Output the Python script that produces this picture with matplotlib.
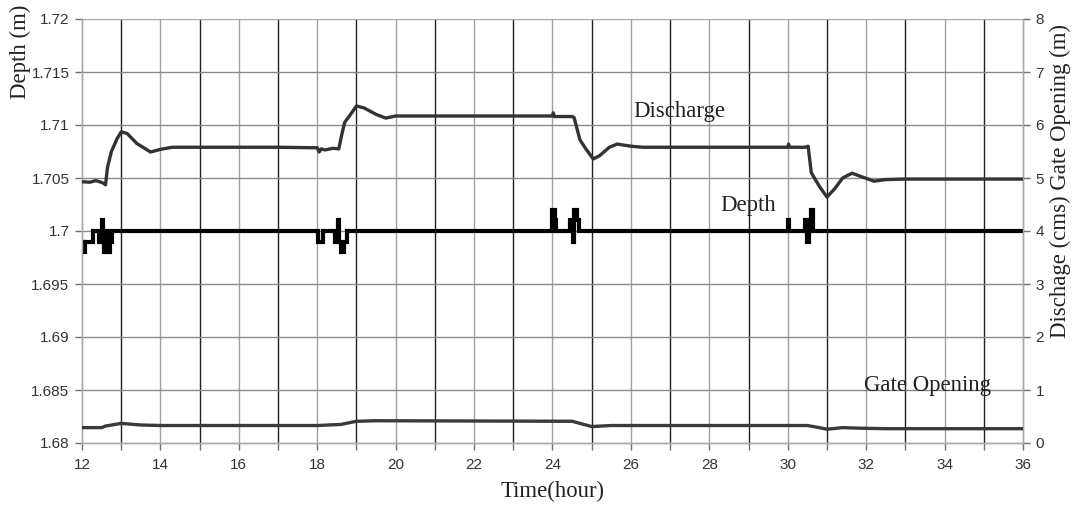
import matplotlib
matplotlib.use("Agg")
import matplotlib.pyplot as plt
from matplotlib.ticker import FixedLocator, FuncFormatter

# ---- data ----
disc_t = [12.0, 12.2, 12.35, 12.45, 12.55, 12.6, 12.65, 12.75, 12.9, 13.0, 13.15, 13.4, 13.75, 14.0, 14.3,
          15, 16, 17, 18.0, 18.05, 18.1, 18.2, 18.4, 18.55, 18.62, 18.7, 18.85, 19.0, 19.2, 19.5, 19.75,
          20.0, 21, 22, 23, 24.0, 24.02, 24.05, 24.5, 24.55, 24.7, 24.85, 25.04, 25.2, 25.45, 25.65, 26.0,
          26.3, 27, 28, 29, 30.0, 30.02, 30.05, 30.45, 30.52, 30.6, 30.8, 31.0, 31.2, 31.4, 31.64, 31.9,
          32.2, 32.5, 33, 34, 35, 36]
disc_v = [4.93, 4.92, 4.95, 4.93, 4.90, 4.87, 5.2, 5.5, 5.75, 5.87, 5.84, 5.65, 5.49, 5.54, 5.58,
          5.58, 5.58, 5.58, 5.57, 5.49, 5.55, 5.53, 5.56, 5.55, 5.8, 6.05, 6.2, 6.36, 6.32, 6.2, 6.13,
          6.17, 6.17, 6.17, 6.17, 6.17, 6.23, 6.16, 6.16, 6.14, 5.72, 5.55, 5.36, 5.42, 5.58, 5.64, 5.60,
          5.58, 5.58, 5.58, 5.58, 5.58, 5.64, 5.58, 5.58, 5.60, 5.1, 4.85, 4.64, 4.8, 5.0, 5.09, 5.02,
          4.94, 4.97, 4.98, 4.98, 4.98, 4.98]

depth_t = [12.00, 12.05, 12.08, 12.28, 12.43, 12.50, 12.53, 12.57, 12.62, 12.66, 12.71, 12.76,
           18.02, 18.15, 18.45, 18.52, 18.56, 18.60, 18.68, 18.75,
           24.00, 24.06, 24.10, 24.45, 24.52, 24.56, 24.62, 24.68,
           30.00, 30.04, 30.45, 30.50, 30.55, 30.60, 30.64, 36.0]
depth_v = [1.699, 1.698, 1.699, 1.700, 1.699, 1.701, 1.699, 1.698, 1.700, 1.698, 1.699, 1.700,
           1.699, 1.700, 1.699, 1.701, 1.699, 1.698, 1.699, 1.700,
           1.702, 1.701, 1.700, 1.701, 1.699, 1.702, 1.701, 1.700,
           1.701, 1.700, 1.701, 1.699, 1.701, 1.702, 1.700, 1.700]

gate_t = [12.0, 12.5, 12.6, 13.0, 13.5, 14.0, 18.0, 18.6, 19.0, 19.5, 24.5, 24.8, 25.0, 25.5,
          30.5, 30.8, 31.0, 31.4, 31.8, 32.5, 36.0]
gate_v = [0.29, 0.29, 0.32, 0.37, 0.34, 0.33, 0.33, 0.35, 0.41, 0.42, 0.41, 0.35, 0.31, 0.33,
          0.33, 0.29, 0.26, 0.29, 0.28, 0.27, 0.27]

left_ticks = [1.68, 1.685, 1.69, 1.695, 1.70, 1.705, 1.71, 1.715, 1.72]
right_ticks = [0, 1, 2, 3, 4, 5, 6, 7, 8]
x_label_ticks = [12, 14, 16, 18, 20, 22, 24, 26, 28, 30, 32, 34, 36]

# ---- figure ----
W, H = 1085, 516
fig = plt.figure(figsize=(W / 100, H / 100), dpi=100)
ax = fig.add_axes([82 / W, 1 - 443 / H, (1023 - 82) / W, (443 - 19) / H])
ax2 = ax.twinx()

sans = "Liberation Sans"
serif = "Liberation Serif"
spine_c = "#a8a8a8"
fs = 16.4

ax.set_xlim(12, 36)
ax.set_ylim(1.68, 1.72)
ax2.set_ylim(0, 8)

# grid
for h in range(13, 36):
    ax.axvline(h, color="#202020" if h % 2 else "#a0a0a0", lw=1.0, zorder=0)
for v in left_ticks[1:-1]:
    ax.axhline(v, color="#8a8a8a", lw=1.0, zorder=0)
ax.axhline(1.72, color=spine_c, lw=1.0, zorder=0)

# series
ax.plot(depth_t, depth_v, drawstyle="steps-post", color="black", lw=3.0, solid_joinstyle="miter", zorder=3)
ax2.plot(disc_t, disc_v, color="#333333", lw=2.4, zorder=3)
ax2.plot(gate_t, gate_v, color="#3a3a3a", lw=2.4, zorder=3)

# ticks
ax.xaxis.set_major_locator(FixedLocator(list(range(12, 37))))
ax.xaxis.set_major_formatter(FuncFormatter(lambda x, p: f"{int(round(x))}" if int(round(x)) in x_label_ticks else ""))
ax.yaxis.set_major_locator(FixedLocator(left_ticks))
ax.yaxis.set_major_formatter(FuncFormatter(lambda v, p: f"{v:g}"))
ax2.yaxis.set_major_locator(FixedLocator(right_ticks))
ax2.yaxis.set_major_formatter(FuncFormatter(lambda v, p: f"{int(v)}"))

for a in (ax, ax2):
    for s in a.spines.values():
        s.set_color(spine_c)
        s.set_linewidth(1.0)
    a.tick_params(colors="#707070", length=5, width=1.0, labelcolor="#333333", labelsize=11, pad=4)
ax.tick_params(axis="x", pad=6)
ax.spines["top"].set_visible(False)
ax2.spines["top"].set_visible(False)
for lab in ax.get_xticklabels() + ax.get_yticklabels() + ax2.get_yticklabels():
    lab.set_fontfamily(sans)

# labels
ax.set_xlabel("Time(hour)", fontfamily=serif, fontsize=fs, color="#222222", labelpad=6)
fig.text(20 / W, 1 - 52 / H, "Depth (m)", rotation=90, fontfamily=serif, fontsize=fs,
         color="#222222", ha="center", va="center")
fig.text(1060 / W, 1 - 181 / H, "Dischage (cms) Gate Opening (m)", rotation=90, fontfamily=serif,
         fontsize=fs, color="#222222", ha="center", va="center")

ax.text(633 / W, 1 - 112 / H, "Discharge", transform=fig.transFigure, fontfamily=serif, fontsize=fs,
        color="#222222", ha="left", va="center")
ax.text(720 / W, 1 - 205 / H, "Depth", transform=fig.transFigure, fontfamily=serif, fontsize=fs,
        color="#222222", ha="left", va="center")
ax.text(864 / W, 1 - 386 / H, "Gate Opening", transform=fig.transFigure, fontfamily=serif, fontsize=fs,
        color="#222222", ha="left", va="center")

fig.savefig("out.png", dpi=100, facecolor="white")
